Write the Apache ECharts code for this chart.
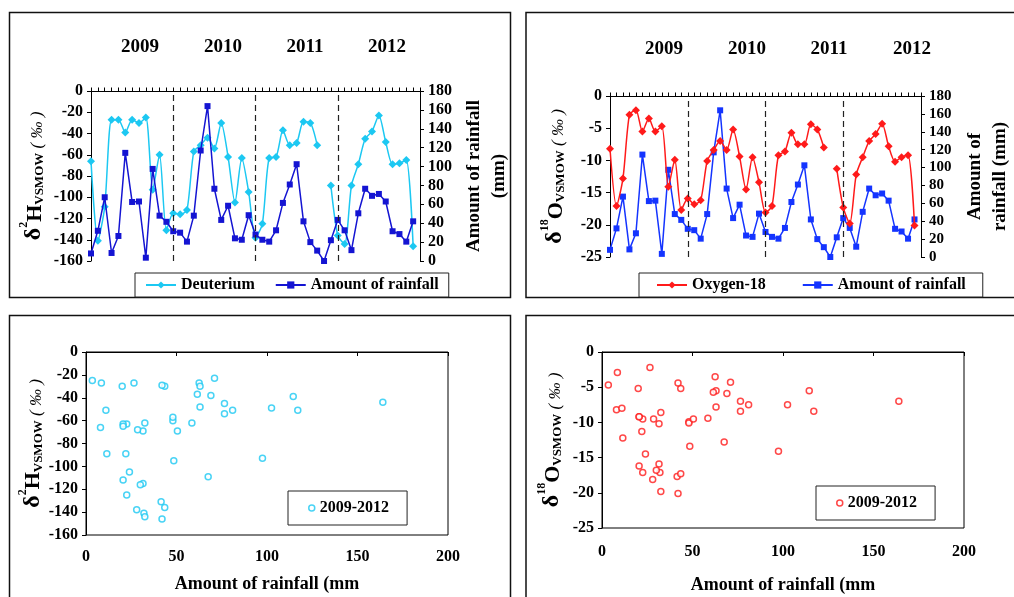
<!DOCTYPE html>
<html>
<head>
<meta charset="utf-8">
<title>Isotopes and rainfall 2009-2012</title>
<script src="https://cdn.jsdelivr.net/npm/echarts@6/dist/echarts.min.js"></script>
<style>
  html, body { margin: 0; padding: 0; background: #fff; }
  #chart { width: 1014px; height: 597px; }
</style>
</head>
<body>
<div id="chart"></div>
<script>
// Monthly record, Jan 2009 - Dec 2012 (index 0..47)
const rainfall = [
  8, 32, 67.5, 8.5, 26.5, 114.5, 62.5, 63, 3.5, 97.5, 48, 41.5,
  31.5, 30, 20.5, 48, 117, 164, 76.5, 43.5, 58.5, 24, 22.5, 48.5,
  28, 22.5, 20.5, 32.5, 61.5, 81, 102.5, 42, 20, 11, 0, 22,
  43.5, 32.5, 11.5, 50.5, 76.5, 69, 71, 63, 31.5, 28.5, 20.5, 42
];
const deuterium = [
  -66, -141, -109, -27, -27, -39, -27, -30, -25, -93, -60, -131,
  -115, -116, -112, -57, -51, -44, -54, -30, -62, -105, -63, -95,
  -138, -125, -63, -62, -37, -51, -49, -29, -30, -51, null, -89,
  -136, -144, -89, -69, -45, -38, -23, -48, -69, -68, -65, -146
];
const oxygen18 = [
  -8.2, -17.1, -12.8, -2.9, -2.2, -5.5, -3.5, -5.5, -4.7, -14.1, -9.9, -17.7,
  -15.9, -16.8, -16.2, -10.1, -8.4, -7.0, -8.4, -5.2, -9.4, -14.5, -9.5, -13.4,
  -18.1, -17.1, -9.2, -8.6, -5.7, -7.5, -7.5, -4.4, -5.2, -8.0, null, -11.3,
  -17.3, -19.8, -12.2, -9.5, -7.0, -5.9, -4.3, -7.8, -10.2, -9.5, -9.2, -20.1
];
const years = ['2009', '2010', '2011', '2012'];
const yearBreaks = [12, 24, 36];

const SERIF = '"Liberation Serif", "Times New Roman", serif';
const BLACK = '#000';
const C_CYAN = '#1CC8F2';
const C_BLUE_H = '#1414D2';
const C_BLUE_O = '#1434FF';
const C_RED = '#FF1A1A';

const legendText = {
  'Deuterium': 'Deuterium',
  'Oxygen-18': 'Oxygen-18',
  'rain-H': 'Amount of rainfall',
  'rain-O': 'Amount of rainfall',
  'pairs-H': '2009-2012',
  'pairs-O': '2009-2012'
};

const series2D = arr => arr.map((v, i) => [i, v === null ? '-' : v]);
const pairs = arr => rainfall.map((r, i) => [r, arr[i]]).filter(p => p[1] !== null);

const labelStyle = { fontFamily: SERIF, fontWeight: 'bold', fontSize: 16, color: BLACK };
const axisLine = { show: true, lineStyle: { color: BLACK, width: 1 } };
const axisTick = { show: true, inside: false, length: 4, lineStyle: { color: BLACK, width: 1 } };

function isoName(sup, el) {
  return '{d|δ}{s|' + sup + '}{h|' + el + '}{v|VSMOW}{p| ( ‰ )}';
}
const isoRich = {
  d: { fontFamily: SERIF, fontWeight: 'bold', fontSize: 24, lineHeight: 28, verticalAlign: 'bottom', color: BLACK },
  s: { fontFamily: SERIF, fontWeight: 'bold', fontSize: 12, lineHeight: 13, verticalAlign: 'top', color: BLACK },
  h: { fontFamily: SERIF, fontWeight: 'bold', fontSize: 22, lineHeight: 27, verticalAlign: 'bottom', color: BLACK },
  v: { fontFamily: SERIF, fontWeight: 'bold', fontSize: 13, lineHeight: 21, verticalAlign: 'bottom', color: BLACK },
  p: { fontFamily: SERIF, fontStyle: 'italic', fontSize: 17, lineHeight: 23, verticalAlign: 'bottom', color: BLACK }
};

function monthAxis(gridIndex) {
  return {
    gridIndex, type: 'value', min: 0, max: 48, interval: 1, position: 'top',
    axisLine, axisTick: { ...axisTick, length: 3.5 }, axisLabel: { show: false }, splitLine: { show: false }
  };
}
function leftAxis(gridIndex, min, interval, name, gap) {
  return {
    gridIndex, type: 'value', min, max: 0, interval, position: 'left',
    axisLine, axisTick, axisLabel: { ...labelStyle, margin: 8 }, splitLine: { show: false },
    name, nameLocation: 'middle', nameRotate: 90, nameGap: gap,
    nameTextStyle: { fontFamily: SERIF, color: BLACK, rich: isoRich }
  };
}
function rainAxis(gridIndex, name, gap, size) {
  return {
    gridIndex, type: 'value', min: 0, max: 180, interval: 20, position: 'right',
    axisLine, axisTick, axisLabel: { ...labelStyle, fontSize: size, margin: 8 }, splitLine: { show: false },
    name, nameLocation: 'middle', nameRotate: 90, nameGap: gap,
    nameTextStyle: { fontFamily: SERIF, fontWeight: 'bold', fontSize: 19, lineHeight: 25, color: BLACK }
  };
}
function breakLines() {
  return {
    silent: true, symbol: ['none', 'none'], label: { show: false },
    lineStyle: { color: '#222', type: [6, 4], width: 1.2 },
    data: yearBreaks.map(v => ({ xAxis: v }))
  };
}
function legendBox(left, top, padding, itemGap, names, extra) {
  return Object.assign({
    left, top, padding, itemGap, data: names, orient: 'horizontal',
    itemWidth: 30, itemHeight: 9,
    borderColor: '#222', borderWidth: 1, backgroundColor: '#fff',
    textStyle: { fontFamily: SERIF, fontWeight: 'bold', fontSize: 16, color: BLACK },
    formatter: n => legendText[n] || n,
    selectedMode: false
  }, extra || {});
}

const frame = (x, y, w, h) => ({
  type: 'rect', silent: true, z: 0,
  shape: { x, y, width: w, height: h },
  style: { fill: 'none', stroke: '#111', lineWidth: 1.5 }
});
const yearText = (x, y, t) => ({
  type: 'text', x, y, silent: true,
  style: { text: t, font: 'bold 19px ' + SERIF, fill: BLACK, textAlign: 'center', textVerticalAlign: 'middle' }
});

const chart = echarts.init(document.getElementById('chart'), null, { renderer: 'canvas' });

const option = {
  backgroundColor: '#fff',
  animation: false,
  grid: [
    { left: 91, top: 91, width: 329, height: 170 },
    { left: 610, top: 96, width: 327, height: 161 },
    { left: 86, top: 352, width: 362, height: 183, show: true, borderColor: BLACK, borderWidth: 1 },
    { left: 602, top: 352, width: 362, height: 176, show: true, borderColor: BLACK, borderWidth: 1 }
  ],
  xAxis: [
    monthAxis(0),
    monthAxis(1),
    {
      gridIndex: 2, type: 'value', min: 0, max: 200, interval: 50, position: 'bottom',
      axisLine, axisTick, axisLabel: { ...labelStyle, margin: 14 }, splitLine: { show: false },
      name: 'Amount of rainfall (mm', nameLocation: 'middle', nameGap: 40,
      nameTextStyle: { fontFamily: SERIF, fontWeight: 'bold', fontSize: 18, color: BLACK }
    },
    {
      gridIndex: 3, type: 'value', min: 0, max: 200, interval: 50, position: 'bottom',
      axisLine, axisTick, axisLabel: { ...labelStyle, margin: 16 }, splitLine: { show: false },
      name: 'Amount of rainfall (mm', nameLocation: 'middle', nameGap: 48,
      nameTextStyle: { fontFamily: SERIF, fontWeight: 'bold', fontSize: 18, color: BLACK }
    }
  ],
  yAxis: [
    leftAxis(0, -160, 20, isoName('2', 'H'), 45),
    rainAxis(0, 'Amount of rainfall\n(mm)', 42, 16),
    leftAxis(1, -25, 5, isoName('18', 'O'), 43),
    rainAxis(1, 'Amount of\nrainfall (mm)', 42, 15),
    leftAxis(2, -160, 20, isoName('2', 'H'), 40),
    leftAxis(3, -25, 5, isoName('18', 'O'), 38)
  ],
  legend: [
    legendBox(135, 273, [4, 10, 4, 10], 20, ['Deuterium', 'rain-H']),
    legendBox(639, 273, [4, 17, 4, 17], 36, ['Oxygen-18', 'rain-O']),
    legendBox(288, 491, [9, 18, 9, 20], 10, [{
      name: 'pairs-H', icon: 'circle', itemStyle: { color: '#fff', borderColor: C_CYAN, borderWidth: 1.5 }
    }], { itemWidth: 6, itemHeight: 6 }),
    legendBox(816, 486, [9, 18, 9, 20], 10, [{
      name: 'pairs-O', icon: 'circle', itemStyle: { color: '#fff', borderColor: C_RED, borderWidth: 1.5 }
    }], { itemWidth: 6, itemHeight: 6 })
  ],
  graphic: [
    frame(9.5, 12.5, 501, 285),
    frame(526, 12.5, 500, 285),
    frame(9.5, 315.5, 501, 300),
    frame(526, 315.5, 500, 300),
    ...years.map((y, k) => yearText([140, 223, 305, 387][k], 47, y)),
    ...years.map((y, k) => yearText([664, 747, 829, 912][k], 49, y))
  ],
  series: [
    {
      name: 'Deuterium', type: 'line', xAxisIndex: 0, yAxisIndex: 0,
      data: series2D(deuterium), connectNulls: false, smooth: 0.25,
      symbol: 'diamond', symbolSize: 8, showAllSymbol: true,
      itemStyle: { color: C_CYAN }, lineStyle: { color: C_CYAN, width: 1.5 }, z: 3
    },
    {
      name: 'rain-H', type: 'line', xAxisIndex: 0, yAxisIndex: 1,
      data: series2D(rainfall), symbol: 'rect', symbolSize: 6, showAllSymbol: true,
      itemStyle: { color: C_BLUE_H }, lineStyle: { color: C_BLUE_H, width: 1.5 }, z: 4,
      markLine: breakLines()
    },
    {
      name: 'rain-O', type: 'line', xAxisIndex: 1, yAxisIndex: 3,
      data: series2D(rainfall), symbol: 'rect', symbolSize: 6, showAllSymbol: true,
      itemStyle: { color: C_BLUE_O }, lineStyle: { color: C_BLUE_O, width: 1.5 }, z: 3,
      markLine: breakLines()
    },
    {
      name: 'Oxygen-18', type: 'line', xAxisIndex: 1, yAxisIndex: 2,
      data: series2D(oxygen18), connectNulls: false, smooth: 0.25,
      symbol: 'diamond', symbolSize: 8, showAllSymbol: true,
      itemStyle: { color: C_RED }, lineStyle: { color: C_RED, width: 1.5 }, z: 4
    },
    {
      name: 'pairs-H', type: 'scatter', xAxisIndex: 2, yAxisIndex: 4,
      data: pairs(deuterium), symbol: 'circle', symbolSize: 6,
      itemStyle: { color: '#fff', borderColor: C_CYAN, borderWidth: 1.5 }
    },
    {
      name: 'pairs-O', type: 'scatter', xAxisIndex: 3, yAxisIndex: 5,
      data: pairs(oxygen18), symbol: 'circle', symbolSize: 6,
      itemStyle: { color: '#fff', borderColor: C_RED, borderWidth: 1.5 }
    }
  ]
};

chart.setOption(option);
</script>
</body>
</html>
